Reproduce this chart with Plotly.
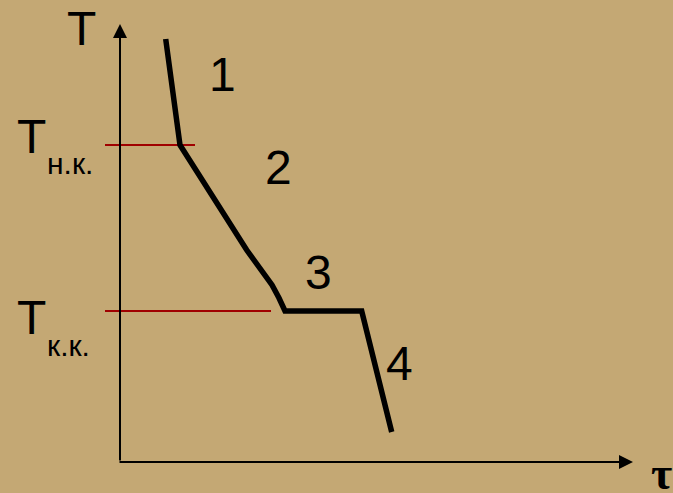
import plotly.graph_objects as go

# Schematic cooling curve (arbitrary units): tau = time, T = temperature
curve_tau = [45.7, 60, 126.7, 142, 152, 159, 163, 165, 241.7, 271.7]
curve_T = [423, 317, 212, 192, 177, 164, 157, 151, 151, 30]

T_nk = 317      # T н.к.
T_kk = 151      # T к.к.
ref_tau_nk = [-15, 75]
ref_tau_kk = [-15, 151]

stage_labels = ["1", "2", "3", "4"]
stage_tau = [102, 158, 198, 279.5]
stage_T = [387.5, 295, 189.5, 98.5]

BG = "#c4a874"
SANS = "Liberation Sans, Arial, sans-serif"

fig = go.Figure()

# reference lines
for T, taus in [(T_nk, ref_tau_nk), (T_kk, ref_tau_kk)]:
    fig.add_trace(go.Scatter(x=taus, y=[T, T], mode="lines",
                             line=dict(color="#a00000", width=2),
                             hoverinfo="skip", showlegend=False))

# curve
fig.add_trace(go.Scatter(x=curve_tau, y=curve_T, mode="lines",
                         line=dict(color="black", width=5.5),
                         hoverinfo="skip", showlegend=False))

ann = []
# axes with arrows
ann.append(dict(x=0, y=438, ax=0, ay=0, xref="x", yref="y", axref="x", ayref="y",
                showarrow=True, arrowhead=2, arrowsize=1.4, arrowwidth=2,
                arrowcolor="black", text=""))
ann.append(dict(x=513, y=0, ax=-2, ay=0, xref="x", yref="y", axref="x", ayref="y",
                showarrow=True, arrowhead=2, arrowsize=1.4, arrowwidth=2,
                arrowcolor="black", text=""))

def txt(x, y, s, size, family=SANS):
    ann.append(dict(x=x, y=y, xref="x", yref="y", text=s, showarrow=False,
                    xanchor="center", yanchor="middle",
                    font=dict(size=size, color="black", family=family)))

txt(-39, 434, "T", 48)
txt(-89, 326, "T", 48)
txt(-50, 299, "н.к.", 30)
txt(-89, 144.5, "T", 48)
txt(-51.5, 117, "к.к.", 30)
for s, x, y in zip(stage_labels, stage_tau, stage_T):
    txt(x, y, s, 48)
txt(541, -11.5, "<b>τ</b>", 46, "Liberation Serif, Times New Roman, serif")

fig.update_layout(
    width=673, height=493,
    margin=dict(l=0, r=0, t=0, b=0),
    paper_bgcolor=BG, plot_bgcolor=BG,
    xaxis=dict(range=[-120, 553], visible=False, fixedrange=True),
    yaxis=dict(range=[-31, 462], visible=False, fixedrange=True),
    annotations=ann,
    showlegend=False,
)

fig.write_html("out.html", config={"displayModeBar": False},
               post_script="document.body.style.margin='0';document.body.style.background='" + BG + "';")
